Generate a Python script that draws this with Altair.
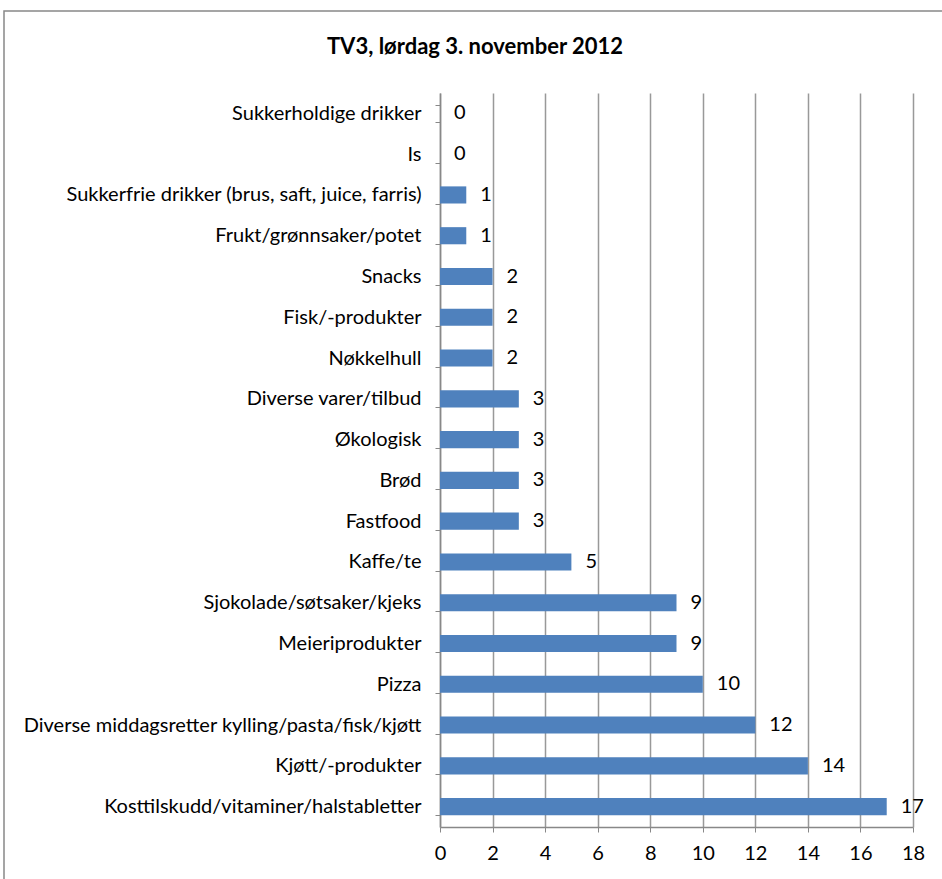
import altair as alt
import pandas as pd

categories = [
    "Sukkerholdige drikker",
    "Is",
    "Sukkerfrie drikker (brus, saft, juice, farris)",
    "Frukt/grønnsaker/potet",
    "Snacks",
    "Fisk/-produkter",
    "Nøkkelhull",
    "Diverse varer/tilbud",
    "Økologisk",
    "Brød",
    "Fastfood",
    "Kaffe/te",
    "Sjokolade/søtsaker/kjeks",
    "Meieriprodukter",
    "Pizza",
    "Diverse middagsretter kylling/pasta/fisk/kjøtt",
    "Kjøtt/-produkter",
    "Kosttilskudd/vitaminer/halstabletter",
]
values = [0, 0, 1, 1, 2, 2, 2, 3, 3, 3, 3, 5, 9, 9, 10, 12, 14, 17]
x_ticks = [0, 2, 4, 6, 8, 10, 12, 14, 16, 18]
title_text = "TV3, lørdag 3. november 2012"

df = pd.DataFrame({"kategori": categories, "antall": values})

FONT = "Lato"

y_enc = alt.Y(
    "kategori:N",
    sort=categories,
    title=None,
    scale=alt.Scale(paddingInner=0.58, paddingOuter=0.29),
    axis=alt.Axis(
        domainColor="#888888",
        domainWidth=1.5,
        tickColor="#888888",
        tickSize=5,
        tickBand="extent",
        labelPadding=14,
        labelFont=FONT,
        labelFontSize=20,
        labelColor="#000000",
        labelLimit=500,
        grid=False,
    ),
)
x_enc = alt.X(
    "antall:Q",
    title=None,
    scale=alt.Scale(domain=[0, 18], nice=False),
    axis=alt.Axis(
        values=x_ticks,
        domainColor="#888888",
        domainWidth=1.5,
        tickColor="#888888",
        tickSize=5,
        labelPadding=11,
        labelFlush=False,
        labelFont=FONT,
        labelFontSize=20,
        labelColor="#000000",
        grid=True,
        gridColor="#999999",
        gridWidth=1.5,
    ),
)

border = alt.Chart(pd.DataFrame({"a": [0]})).mark_rect(
    filled=False, stroke="#888888", strokeWidth=1.5
).encode(
    x=alt.value(-436), x2=alt.value(520), y=alt.value(-82), y2=alt.value(800)
)

title = alt.Chart(pd.DataFrame({"t": [title_text]})).mark_text(
    font=FONT, fontSize=22, fontWeight="bold", color="#000000",
    align="center", baseline="middle"
).encode(x=alt.value(35), y=alt.value(-46), text="t:N")

bars = alt.Chart(df).mark_bar(color="#4F81BD").encode(y=y_enc, x=x_enc)
labels = alt.Chart(df).mark_text(
    align="left", dx=14, font=FONT, fontSize=20, color="#000000"
).encode(y=alt.Y("kategori:N", sort=categories), x="antall:Q", text="antall:Q")

chart = alt.layer(border, title, bars, labels).properties(
    width=473,
    height=734,
    autosize=alt.AutoSizeParams(type="none"),
    padding={"left": 440, "top": 93, "right": 29, "bottom": 52},
    background="white",
).configure_view(stroke=None)

chart.save("out.html", embed_options={"renderer": "svg", "actions": False})
